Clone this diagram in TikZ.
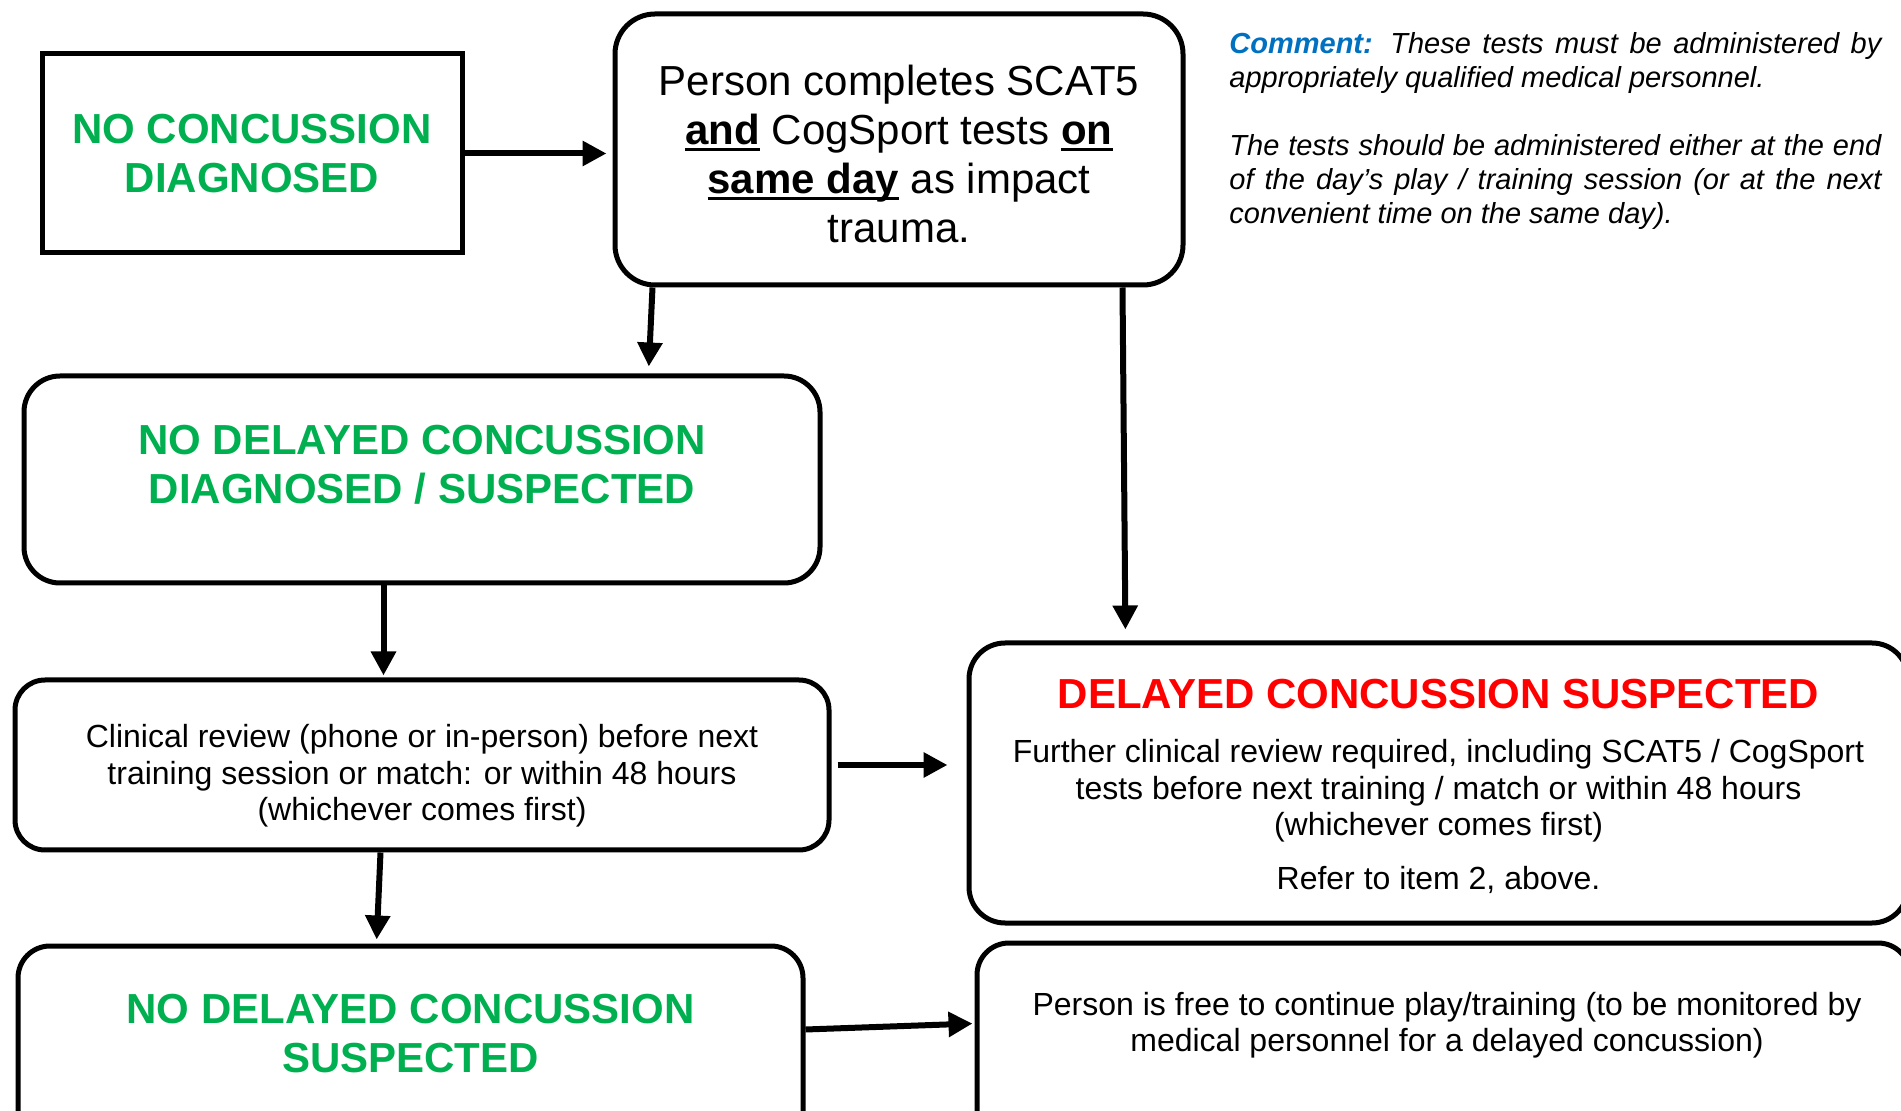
\documentclass[tikz,border=0pt]{standalone}
\usepackage{fontspec}
\setmainfont{Liberation Sans}
\usetikzlibrary{arrows.meta}

\definecolor{okgreen}{HTML}{00B050}
\definecolor{alertred}{HTML}{FF0000}
\definecolor{noteblue}{HTML}{0070C0}

\newcommand{\hdsize}{\fontsize{21}{24.5}\selectfont}
\newcommand{\bdsize}{\fontsize{16}{18.2}\selectfont}
\newcommand{\cmsize}{\fontsize{14.5}{17}\selectfont}
\newcommand{\undl}[1]{\setbox0\hbox{#1}\rlap{\rule[-3.6pt]{\wd0}{1.6pt}}\box0\relax}

\begin{document}
\begin{tikzpicture}[>={Triangle[length=12pt,width=12pt]}, x=0.5pt, y=-0.5pt,
	box/.style={draw, line width=2.5pt, inner sep=0pt, align=center},
	rbox/.style={box, rounded corners=#1}, rbox/.default=18pt,
	go/.style={text=okgreen, font=\bfseries\hdsize, align=center},
	plain/.style={font=\bdsize, align=center},
	arr/.style={->, line width=3pt}]

	\useasboundingbox (0,0) rectangle (1901,1111);
	\clip (0,0) rectangle (1901,1111);

	% Boxes {nocon, tests, nodelay, delay, review, nosusp, free}
	\node [box, go, minimum width=210pt, minimum height=99.5pt] (nocon) at (252,153.5) {NO CONCUSSION\\DIAGNOSED};
	\node [rbox=20pt, minimum width=284pt, minimum height=135.5pt] (tests) at (899,149.5) {};
	\node [font=\hdsize, align=center] (teststxt) at ([yshift=-2pt]tests.center)
	{Person completes SCAT5\\\undl{\bfseries and} CogSport tests \undl{\bfseries on}\\\undl{\bfseries same day} as impact\\trauma.};

	\node [rbox, minimum width=398pt, minimum height=103.5pt] (nodelay) at (422,479.5) {};
	\node [go] (nodelaytxt) at ([yshift=7.25pt]nodelay.center) {NO DELAYED CONCUSSION\\DIAGNOSED / SUSPECTED};

	\node [rbox, minimum width=469.5pt, minimum height=140pt] (delay) at (1438.5,783) {};
	\node [plain] (delaytxt) at ([yshift=-1.75pt]delay.center)
	{{\color{alertred}\bfseries\hdsize DELAYED CONCUSSION SUSPECTED}\\[9pt]
	Further clinical review required, including SCAT5 / CogSport\\
	tests before next training / match or within 48 hours\\
	(whichever comes first)\\[9pt]
	Refer to item 2, above.};

	\node [rbox=15pt, minimum width=407pt, minimum height=85pt] (review) at (422,765) {};
	\node [plain] (reviewtxt) at ([yshift=-5.5pt]review.center)
	{Clinical review (phone or in-person) before next\\training session or match: or within 48 hours\\(whichever comes first)};

	\node [rbox=16pt, minimum width=392.5pt, minimum height=102pt] (nosusp) at (410.5,1048) {};
	\node [go] (nosusptxt) at ([yshift=-45pt]nosusp.north) {NO DELAYED CONCUSSION\\SUSPECTED};

	\node [rbox=16pt, minimum width=466.5pt, minimum height=103.5pt] (free) at (1443.5,1046.5) {};
	\node [plain] (freetxt) at ([xshift=1.75pt, yshift=-42.5pt]free.north)
	{Person is free to continue play/training (to be monitored by\\medical personnel for a delayed concussion)};

	% Comment
	\node [anchor=north west, inner sep=0pt, text width=326pt, align=justify, font=\cmsize\itshape] (note) at (1229,32.5)
	{\parindent=0pt\hyphenpenalty=10000\textcolor{noteblue}{\bfseries Comment:} These tests must be administered by\linebreak
	appropriately qualified medical personnel.\par\vspace{17pt}
	The tests should be administered either at the end\linebreak
	of the day’s play / training session (or at the next\linebreak
	convenient time on the same day).};

	% Arrows
	\path [arr] (nocon.east) edge [shorten >=3pt] (nocon.east -| tests.west);
	\path [arr] ([xshift=20pt]tests.south west) edge [shorten >=3.5pt] ([xshift=313.5pt]nodelay.north west);
	\path [arr] ([xshift=-31.5pt]tests.south east) edge [shorten >=5.5pt] ([xshift=79.5pt]delay.north west);
	\path [arr] ([xshift=181pt]nodelay.south west) edge [shorten >=1pt] ([xshift=185.5pt]review.north west);
	\path [arr] (review.east) edge [shorten <=3pt, shorten >=9.5pt] (review.east -| delay.west);
	\path [arr] ([xshift=184pt]review.south west) edge [shorten >=2pt] ([xshift=180.5pt]nosusp.north west);
	\path [arr] ([yshift=-43pt]nosusp.north east) edge [shorten >=1pt] ([yshift=-41.5pt]free.north west);

\end{tikzpicture}
\end{document}
